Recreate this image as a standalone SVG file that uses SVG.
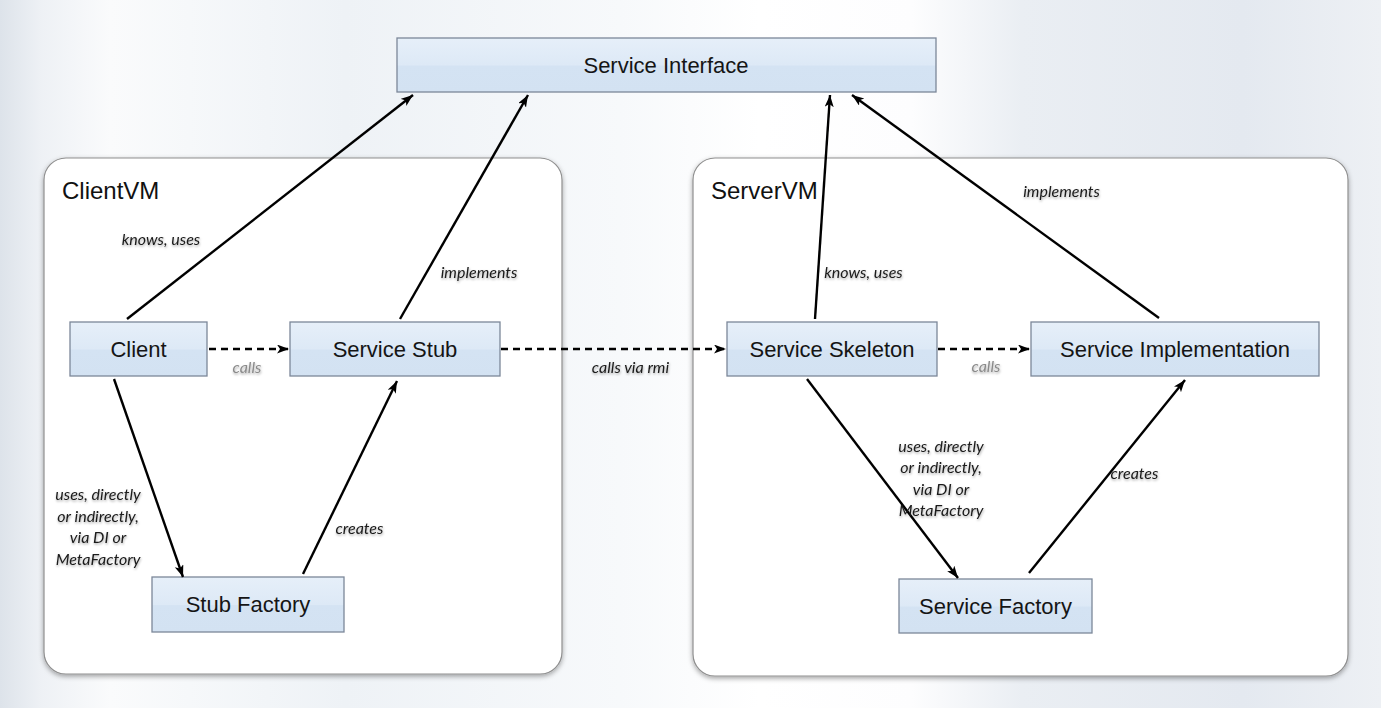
<svg xmlns="http://www.w3.org/2000/svg" width="1381" height="708" viewBox="0 0 1381 708">
<defs>
  <linearGradient id="bg" x1="0" y1="0" x2="1" y2="0">
    <stop offset="0" stop-color="#dde3ea"/>
    <stop offset="0.03" stop-color="#eef1f5"/>
    <stop offset="0.08" stop-color="#fafbfc"/>
    <stop offset="0.25" stop-color="#eef2f6"/>
    <stop offset="0.45" stop-color="#f7f9fb"/>
    <stop offset="0.55" stop-color="#ffffff"/>
    <stop offset="0.66" stop-color="#fdfdfe"/>
    <stop offset="0.74" stop-color="#eaeef3"/>
    <stop offset="0.9" stop-color="#e4e9f0"/>
    <stop offset="1" stop-color="#edf0f4"/>
  </linearGradient>
  <linearGradient id="box" x1="0" y1="0" x2="0" y2="1">
    <stop offset="0" stop-color="#e6eff9"/>
    <stop offset="0.5" stop-color="#dde9f6"/>
    <stop offset="0.52" stop-color="#d4e3f3"/>
    <stop offset="1" stop-color="#d3e2f2"/>
  </linearGradient>
  <filter id="shadow" x="-5%" y="-5%" width="110%" height="110%">
    <feDropShadow dx="0" dy="2" stdDeviation="2.5" flood-color="#000" flood-opacity="0.35"/>
  </filter>
  <filter id="tshadow" x="-10%" y="-30%" width="120%" height="160%">
    <feDropShadow dx="0.5" dy="1.5" stdDeviation="1.2" flood-color="#000" flood-opacity="0.35"/>
  </filter>
  <marker id="arrow" markerUnits="userSpaceOnUse" markerWidth="14" markerHeight="10" refX="12" refY="4.5" orient="auto">
    <path d="M0,0 L12,4.5 L0,9 L3,4.5 z" fill="#000"/>
  </marker>
  <style>
    .vm { fill: #ffffff; stroke: #8f8f8f; stroke-width: 1.2; filter: url(#shadow); }
    .vmtitle { font-family: "Liberation Sans", Arial, sans-serif; font-size: 24px; fill: #111; }
    .node rect { fill: url(#box); stroke: #7c8799; stroke-width: 1.3; }
    .node text { font-family: "Liberation Sans", Arial, sans-serif; font-size: 22px; fill: #151515; text-anchor: middle; }
    .edge { stroke: #000; stroke-width: 2.4; fill: none; marker-end: url(#arrow); }
    .dash { stroke-dasharray: 7 5; }
    .lbl { font-family: Lato, "Open Sans", sans-serif; font-style: italic; font-size: 16px; fill: #1a1a1a; text-anchor: middle; filter: url(#tshadow); }
    .gray { fill: #8a8a8a; }
  </style>
</defs>

<rect x="0" y="0" width="1381" height="708" fill="url(#bg)"/>

<g id="clientvm">
  <rect class="vm" x="44" y="158" width="518" height="516" rx="22"/>
  <text class="vmtitle" x="62" y="199">ClientVM</text>
</g>
<g id="servervm">
  <rect class="vm" x="693" y="158" width="655" height="518" rx="22"/>
  <text class="vmtitle" x="711" y="199">ServerVM</text>
</g>

<g id="service-interface" class="node">
  <rect x="397" y="38" width="539" height="54"/>
  <text x="666" y="73">Service Interface</text>
</g>
<g id="client" class="node">
  <rect x="70" y="322" width="137" height="54"/>
  <text x="138.5" y="357">Client</text>
</g>
<g id="service-stub" class="node">
  <rect x="290" y="322" width="210" height="54"/>
  <text x="395" y="357">Service Stub</text>
</g>
<g id="service-skeleton" class="node">
  <rect x="727" y="322" width="210" height="54"/>
  <text x="832" y="357">Service Skeleton</text>
</g>
<g id="service-implementation" class="node">
  <rect x="1031" y="322" width="288" height="54"/>
  <text x="1175" y="357">Service Implementation</text>
</g>
<g id="stub-factory" class="node">
  <rect x="152" y="577" width="192" height="55"/>
  <text x="248" y="612">Stub Factory</text>
</g>
<g id="service-factory" class="node">
  <rect x="899" y="579" width="193" height="54"/>
  <text x="995.5" y="614">Service Factory</text>
</g>

<g id="connectors">
  <line class="edge" x1="127" y1="319" x2="413" y2="95"/>
  <line class="edge" x1="400" y1="319" x2="528" y2="95"/>
  <line class="edge" x1="815" y1="319" x2="830" y2="95"/>
  <line class="edge" x1="1159" y1="318" x2="852" y2="95"/>
  <line class="edge" x1="114" y1="379" x2="183" y2="577"/>
  <line class="edge" x1="303" y1="574" x2="397" y2="381"/>
  <line class="edge" x1="807" y1="379" x2="958" y2="578"/>
  <line class="edge" x1="1029" y1="573" x2="1185" y2="380"/>
  <line class="edge dash" x1="209" y1="349" x2="289" y2="349"/>
  <line class="edge dash" x1="501" y1="349" x2="726" y2="349"/>
  <line class="edge dash" x1="938" y1="349" x2="1030" y2="349"/>

  <text class="lbl" x="161" y="245">knows, uses</text>
  <text class="lbl" x="479" y="278">implements</text>
  <text class="lbl gray" x="247" y="373">calls</text>
  <text class="lbl" x="630.5" y="373">calls via rmi</text>
  <text class="lbl gray" x="986" y="372">calls</text>
  <text class="lbl" x="863.5" y="278">knows, uses</text>
  <text class="lbl" x="1061.5" y="197">implements</text>
  <text class="lbl" x="359.5" y="534">creates</text>
  <text class="lbl" x="1134.5" y="479">creates</text>
  <text class="lbl" x="98" y="500">uses, directly</text>
  <text class="lbl" x="98" y="522">or indirectly,</text>
  <text class="lbl" x="98" y="543">via DI or</text>
  <text class="lbl" x="98" y="565">MetaFactory</text>
  <text class="lbl" x="941" y="452">uses, directly</text>
  <text class="lbl" x="941" y="473">or indirectly,</text>
  <text class="lbl" x="941" y="495">via DI or</text>
  <text class="lbl" x="941" y="516">MetaFactory</text>
</g>
</svg>
